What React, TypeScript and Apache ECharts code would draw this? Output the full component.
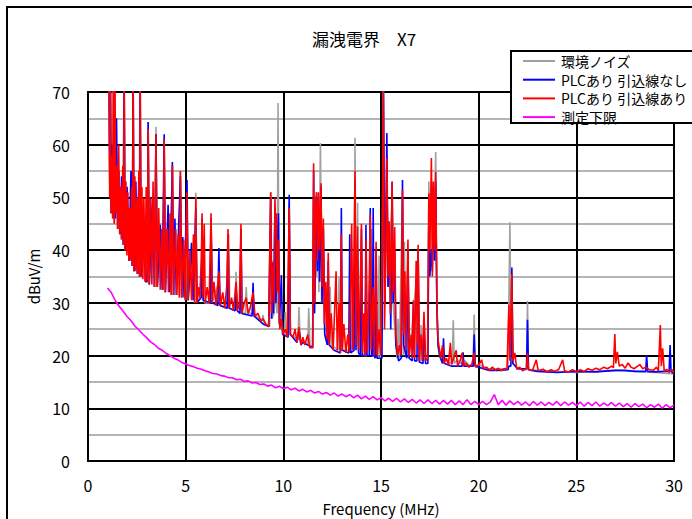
import React, { useEffect, useRef } from "react";
import * as echarts from "echarts";

const TITLE = "漏洩電界　X7";
const X_NAME = "Frequency (MHz)";
const Y_NAME = "dBuV/m";
const SERIES_NAMES = ["環境ノイズ", "PLCあり 引込線なし", "PLCあり 引込線あり", "測定下限"];
const SERIES_COLORS = ["#a0a0a0", "#0000ff", "#ff0000", "#ff00ff"];

// 環境ノイズ (ambient noise) [MHz, dBuV/m]
const ambientNoise: [number, number][] = [
  [1.08, 72], [1.12, 50], [1.15, 73], [1.2, 47], [1.26, 55], [1.3, 73], [1.36, 45], [1.45, 58],
  [1.52, 44], [1.6, 50], [1.7, 42], [1.8, 50], [1.85, 74], [1.9, 40], [2.0, 50], [2.1, 38],
  [2.2, 48], [2.27, 37], [2.31, 74], [2.36, 36], [2.5, 48], [2.6, 35.5], [2.67, 74], [2.72, 35],
  [2.85, 48], [2.95, 34], [3.03, 34], [3.08, 64.3], [3.14, 33.5], [3.3, 48], [3.42, 33], [3.48, 63.4],
  [3.55, 33], [3.7, 44], [3.85, 32.5], [3.9, 61], [3.96, 32], [4.1, 46], [4.26, 31.5], [4.32, 56],
  [4.38, 31.5], [4.5, 44], [4.68, 31], [4.73, 55], [4.8, 31], [4.9, 40], [5.0, 30.5], [5.07, 50],
  [5.13, 30.5], [5.3, 40], [5.46, 30], [5.52, 50.9], [5.58, 30], [5.8, 32], [5.84, 45], [5.88, 30.5],
  [6.0, 30], [6.25, 30], [6.3, 45], [6.36, 30], [6.7, 34], [6.76, 29.5], [7.15, 29], [7.2, 43],
  [7.26, 29], [7.52, 28.5], [7.58, 35.9], [7.64, 28.5], [7.78, 28], [7.83, 44], [7.88, 28], [8.05, 28],
  [8.1, 33], [8.16, 28], [8.45, 28], [8.9, 26.5], [8.96, 27.7], [9.02, 26], [9.3, 25.5], [9.37, 51],
  [9.42, 27], [9.52, 28], [9.57, 49], [9.62, 30], [9.68, 28], [9.73, 67.9], [9.78, 26], [10.05, 24],
  [10.1, 28.3], [10.16, 24], [10.25, 23.5], [10.3, 49], [10.36, 24], [10.75, 23], [10.8, 29.2], [10.86, 23],
  [11.25, 22], [11.3, 29], [11.36, 22], [11.5, 21.5], [11.55, 50], [11.6, 30], [11.65, 50], [11.7, 35],
  [11.75, 50], [11.82, 32], [11.9, 60.3], [11.96, 30], [12.05, 40], [12.12, 24], [12.35, 22], [12.4, 33],
  [12.45, 22], [12.8, 21], [12.85, 34.7], [12.9, 21], [13.3, 21], [13.45, 21], [13.5, 40], [13.56, 21],
  [13.62, 22], [13.67, 61.3], [13.72, 22], [13.76, 22], [13.8, 49], [13.85, 21], [14.0, 40], [14.05, 20],
  [14.3, 20], [14.5, 44], [14.55, 20], [14.85, 19.5], [14.9, 39], [14.96, 19.5], [15.05, 25], [15.12, 72],
  [15.2, 30], [15.3, 55], [15.36, 33], [15.57, 50], [15.62, 30], [15.76, 22], [15.82, 19.5], [15.87, 27],
  [15.93, 19.5], [16.1, 50], [16.15, 20], [16.2, 41.6], [16.26, 20], [16.38, 38], [16.44, 19.5], [16.9, 38],
  [16.96, 19], [17.0, 19], [17.05, 25.8], [17.1, 19], [17.4, 19.5], [17.45, 53], [17.5, 40], [17.62, 50],
  [17.7, 40], [17.8, 58.6], [17.86, 30], [17.92, 22], [18.0, 20], [18.1, 19], [18.3, 19.5], [18.5, 18.5],
  [18.65, 18.8], [18.7, 26.7], [18.75, 18.5], [18.9, 19.2], [19.1, 18.5], [19.3, 19], [19.5, 18.2], [19.72, 18.2],
  [19.77, 27.8], [19.82, 18], [20.0, 18.3], [20.5, 17.5], [21.0, 17.5], [21.5, 17.5], [21.6, 45.3], [21.66, 20],
  [21.7, 35], [21.75, 18.5], [22.0, 17.5], [22.45, 17.3], [22.5, 30.4], [22.55, 17.3], [23, 17.2], [24, 17],
  [25, 16.8], [26, 17], [27, 17.2], [28, 17], [29, 16.8], [30, 16.5],
];

// PLCあり 引込線なし (PLC on, no drop line)
const plcNoDrop: [number, number][] = [
  [1.08, 72], [1.12, 50], [1.15, 73], [1.19, 47], [1.25, 60], [1.3, 46], [1.35, 73], [1.4, 46],
  [1.46, 65], [1.52, 44], [1.58, 55], [1.64, 43], [1.72, 54], [1.8, 41], [1.85, 74], [1.9, 40],
  [2.0, 52], [2.1, 38], [2.2, 55], [2.26, 37], [2.31, 74], [2.36, 36], [2.45, 53], [2.52, 35.5],
  [2.6, 52], [2.64, 35], [2.67, 74], [2.72, 35], [2.85, 45], [2.95, 34], [3.03, 34], [3.08, 64.3],
  [3.14, 33.5], [3.3, 50], [3.4, 33], [3.48, 62], [3.55, 33], [3.7, 44.8], [3.8, 32.5], [3.9, 62],
  [3.96, 32], [4.1, 48.6], [4.18, 32], [4.32, 56.7], [4.38, 31.5], [4.45, 46], [4.52, 31.5], [4.73, 54],
  [4.8, 31], [4.85, 42.5], [4.92, 31], [5.07, 53.3], [5.13, 30.5], [5.3, 41.4], [5.38, 30.5], [5.52, 48],
  [5.58, 30], [5.8, 31], [5.84, 46], [5.9, 30.5], [6.25, 30], [6.3, 46], [6.36, 30], [6.65, 29.5],
  [6.7, 40.4], [6.76, 29.5], [7.12, 29], [7.17, 43], [7.22, 29], [7.53, 28.5], [7.58, 33], [7.64, 28.5],
  [7.78, 28], [7.83, 44], [7.88, 28], [8.4, 27.5], [8.45, 33.8], [8.5, 27.5], [8.96, 26], [9.25, 25.5],
  [9.35, 50], [9.4, 27], [9.45, 37.6], [9.5, 28], [9.57, 48], [9.62, 30], [9.75, 47], [9.8, 26],
  [9.9, 35.3], [9.96, 24], [10.24, 23.5], [10.3, 50.5], [10.36, 24], [10.7, 22.5], [10.8, 25], [10.9, 22],
  [11.0, 22.5], [11.5, 21.5], [11.55, 55], [11.6, 28], [11.7, 50], [11.75, 36], [11.8, 50], [11.86, 34],
  [11.93, 52], [11.98, 30], [12.05, 44], [12.12, 24], [12.25, 22], [12.3, 38], [12.35, 22], [12.6, 21],
  [12.92, 20.5], [12.97, 48], [13.02, 21], [13.35, 20.5], [13.4, 43], [13.45, 20.5], [13.62, 21], [13.67, 53],
  [13.72, 21], [13.8, 40], [13.85, 20.5], [13.95, 20], [14.0, 44], [14.05, 20], [14.18, 20], [14.23, 44.8],
  [14.28, 20], [14.4, 20], [14.45, 48], [14.52, 20], [14.56, 20], [14.6, 48], [14.65, 20], [14.7, 19.5],
  [14.75, 40], [14.8, 19.5], [15.05, 19.5], [15.12, 72], [15.2, 30], [15.3, 62.2], [15.36, 33], [15.45, 40],
  [15.5, 25], [15.57, 53], [15.62, 30], [15.7, 40], [15.76, 22], [15.9, 19], [16.04, 19.5], [16.1, 53.3],
  [16.16, 22], [16.32, 19.5], [16.38, 40], [16.44, 19.5], [16.6, 19], [16.66, 30], [16.72, 19], [16.84, 19],
  [16.9, 40], [16.96, 18.8], [17.15, 18.5], [17.2, 27], [17.28, 18.5], [17.4, 18.5], [17.45, 47], [17.5, 35],
  [17.58, 40], [17.63, 36], [17.68, 52], [17.74, 38], [17.8, 53], [17.86, 29], [17.92, 22], [18.0, 20],
  [18.15, 18.5], [18.2, 23.3], [18.25, 18.5], [18.6, 18], [19.15, 18], [19.2, 20.6], [19.25, 18], [19.72, 18],
  [19.77, 24], [19.82, 18], [20.5, 17.2], [21.0, 17.2], [21.5, 17.3], [21.55, 18], [21.65, 18], [21.7, 36.7],
  [21.75, 18.5], [22.0, 17.5], [22.45, 17.5], [22.5, 26.8], [22.55, 17.3], [23, 17], [24, 16.8], [25, 17],
  [26, 16.9], [27, 17.2], [27.5, 17.2], [28, 17.0], [28.55, 17], [28.6, 20.1], [28.65, 17], [29.0, 16.9],
  [29.5, 17], [29.75, 17], [29.8, 22], [29.85, 17], [30, 16.5],
];

// PLCあり 引込線あり (PLC on, with drop line)
const plcWithDrop: [number, number][] = [
  [1.08, 72], [1.11, 50], [1.14, 73], [1.18, 47], [1.22, 58], [1.26, 46], [1.3, 73], [1.34, 45],
  [1.38, 73], [1.42, 47], [1.47, 56], [1.52, 44], [1.57, 60], [1.62, 43], [1.67, 52], [1.72, 42],
  [1.78, 56], [1.82, 41], [1.85, 74], [1.89, 40], [1.94, 53], [1.99, 39], [2.04, 51], [2.09, 38],
  [2.14, 48], [2.19, 38], [2.24, 52], [2.28, 37], [2.31, 74], [2.35, 36], [2.4, 54], [2.45, 36],
  [2.5, 50], [2.55, 35.5], [2.6, 55], [2.64, 35], [2.67, 74], [2.71, 35], [2.76, 52], [2.81, 34.5],
  [2.86, 50], [2.92, 34], [2.98, 52], [3.03, 34], [3.08, 63], [3.13, 33.5], [3.2, 50], [3.27, 33.5],
  [3.33, 53], [3.4, 33], [3.48, 62], [3.54, 33], [3.62, 48], [3.7, 32.5], [3.78, 44], [3.84, 32.5],
  [3.9, 61], [3.96, 32], [4.05, 44], [4.12, 32], [4.2, 47], [4.26, 31.5], [4.32, 56], [4.38, 31.5],
  [4.48, 44], [4.55, 31.5], [4.62, 43], [4.68, 31], [4.73, 55], [4.8, 31], [4.9, 42], [4.97, 30.5],
  [5.06, 51], [5.12, 30.5], [5.22, 40], [5.3, 30.5], [5.4, 43], [5.46, 30], [5.52, 50], [5.58, 30],
  [5.65, 33], [5.72, 31], [5.8, 38], [5.84, 47], [5.88, 31], [5.95, 45], [6.0, 30], [6.1, 33],
  [6.2, 30], [6.3, 47], [6.36, 30], [6.45, 34], [6.55, 29.5], [6.7, 36], [6.78, 29.5], [6.9, 32],
  [7.0, 29], [7.1, 33], [7.17, 44], [7.22, 29], [7.35, 31], [7.45, 28.5], [7.58, 34], [7.65, 28.5],
  [7.75, 30], [7.83, 45], [7.88, 28], [8.0, 30], [8.1, 31], [8.2, 28], [8.3, 29], [8.45, 32],
  [8.55, 27.5], [8.7, 28], [8.85, 26.5], [8.96, 27], [9.1, 26], [9.25, 25.5], [9.35, 51], [9.4, 28],
  [9.48, 38], [9.53, 30], [9.57, 50], [9.6, 44], [9.64, 47], [9.68, 32], [9.75, 42], [9.82, 25],
  [9.9, 27], [9.98, 24], [10.1, 25], [10.2, 23.5], [10.3, 48], [10.36, 24], [10.5, 23.5], [10.6, 25],
  [10.7, 22.5], [10.8, 25.4], [10.9, 22], [11.0, 23.5], [11.1, 22], [11.25, 24], [11.35, 21.5], [11.5, 21.5],
  [11.55, 56.5], [11.6, 30], [11.65, 49], [11.7, 51], [11.75, 38], [11.8, 51], [11.85, 40], [11.93, 52.7],
  [11.98, 33], [12.05, 46], [12.1, 26], [12.18, 34], [12.24, 23], [12.3, 39.5], [12.35, 22], [12.45, 28],
  [12.55, 21], [12.7, 36], [12.76, 21], [12.85, 30], [12.92, 20.5], [12.97, 43], [13.02, 21], [13.1, 26],
  [13.2, 20.5], [13.3, 24], [13.38, 20.5], [13.5, 45], [13.56, 21], [13.67, 55], [13.72, 22], [13.8, 44.5],
  [13.85, 21], [13.92, 30], [14.0, 45], [14.05, 20.5], [14.12, 28], [14.18, 20], [14.24, 42], [14.3, 20.5],
  [14.38, 30], [14.45, 46.7], [14.5, 21], [14.6, 33], [14.66, 20], [14.75, 41.6], [14.8, 20], [14.9, 25],
  [14.98, 20], [15.05, 36], [15.12, 72], [15.18, 25], [15.25, 40], [15.3, 57.5], [15.36, 35], [15.42, 45.5],
  [15.48, 28], [15.57, 52.9], [15.62, 32], [15.7, 44.4], [15.76, 24], [15.85, 20], [15.95, 22], [16.02, 20],
  [16.1, 51.4], [16.16, 24], [16.22, 36], [16.28, 21], [16.38, 42], [16.44, 20], [16.55, 24], [16.6, 19.5],
  [16.66, 30.5], [16.72, 19.5], [16.8, 38], [16.86, 22], [16.9, 41], [16.96, 19], [17.05, 24], [17.12, 19],
  [17.2, 28.3], [17.28, 19], [17.38, 19.5], [17.45, 50.8], [17.5, 40], [17.58, 57.5], [17.63, 35], [17.68, 53],
  [17.74, 40], [17.8, 54.8], [17.86, 30], [17.92, 23], [18.0, 21], [18.05, 19.5], [18.15, 22], [18.22, 18.5],
  [18.35, 19.5], [18.45, 18.2], [18.55, 22.4], [18.62, 18.3], [18.75, 20], [18.85, 21], [18.92, 18], [19.05, 19],
  [19.15, 20.5], [19.22, 18], [19.35, 18.6], [19.5, 17.8], [19.65, 18.3], [19.77, 20.5], [19.85, 17.8], [20.0, 18.2],
  [20.15, 19.2], [20.25, 17.5], [20.4, 17.8], [20.55, 17.2], [20.7, 17.8], [20.85, 17.2], [21.0, 17.6], [21.15, 17.1],
  [21.3, 17.5], [21.45, 17.6], [21.55, 29.7], [21.6, 19], [21.7, 35.5], [21.75, 19], [21.85, 20.5], [21.95, 17.4],
  [22.1, 17.8], [22.25, 17.1], [22.45, 17.6], [22.5, 20.5], [22.55, 17.4], [22.75, 17.1], [22.95, 19.2], [23.05, 17.1],
  [23.3, 17.4], [23.5, 16.9], [23.7, 17.3], [23.9, 17.0], [24.1, 17.4], [24.3, 19.2], [24.4, 17.1], [24.6, 16.9],
  [24.8, 17.3], [25.0, 16.9], [25.2, 17.3], [25.4, 17.0], [25.6, 17.5], [25.8, 17.2], [26.0, 17.6], [26.2, 17.3],
  [26.4, 17.8], [26.6, 17.5], [26.8, 18], [26.9, 17.7], [26.97, 24.1], [27.02, 18.5], [27.1, 20.7], [27.2, 18],
  [27.35, 18.3], [27.5, 17.6], [27.65, 18.6], [27.8, 17.8], [27.95, 17.5], [28.1, 17.9], [28.25, 18.3], [28.4, 17.5],
  [28.55, 17.8], [28.75, 17.3], [28.95, 17.2], [29.1, 17.8], [29.2, 17.1], [29.3, 25.8], [29.35, 18], [29.42, 21.4],
  [29.5, 17], [29.62, 17.4], [29.75, 16.8], [29.9, 17.3], [30.0, 16.8],
];

// 測定下限 (measurement lower limit), swept from LIMIT_START every LIMIT_STEP MHz
const LIMIT_START = 1.0;
const LIMIT_STEP = 0.2;
const lowerLimit: number[] = [
  32.8, 31.9, 30.4, 29.3, 28.4, 27.4, 26.6, 25.6, 24.9, 24.1,
  23.4, 22.6, 22.1, 21.4, 21.0, 20.4, 20.0, 19.5, 19.2, 18.7,
  18.4, 18.1, 17.9, 17.6, 17.4, 17.1, 16.9, 16.6, 16.5, 16.2,
  16.1, 15.8, 15.8, 15.4, 15.5, 15.1, 15.2, 14.8, 14.9, 14.5,
  14.6, 14.2, 14.4, 13.9, 14.2, 13.7, 14.0, 13.5, 13.8, 13.3,
  13.6, 13.1, 13.4, 12.9, 13.2, 12.7, 13.0, 12.5, 12.9, 12.3,
  12.7, 12.2, 12.6, 12.0, 12.5, 11.8, 12.3, 11.7, 12.2, 11.6,
  12.0, 11.4, 11.9, 11.3, 11.9, 11.2, 11.8, 11.1, 11.7, 11.0,
  11.6, 10.9, 11.6, 10.9, 11.5, 10.8, 11.5, 10.8, 11.5, 10.7,
  11.4, 10.7, 11.6, 10.7, 11.3, 10.7, 11.3, 10.7, 11.2, 12.6,
  10.7, 11.5, 10.6, 11.4, 10.7, 11.3, 10.6, 11.2, 10.5, 11.3,
  10.6, 11.2, 10.5, 11.1, 10.6, 11.3, 10.5, 11.2, 10.6, 11.1,
  10.5, 11.2, 10.4, 11.1, 10.5, 11.2, 10.4, 11.0, 10.5, 11.1,
  10.4, 11.0, 10.3, 10.9, 10.2, 10.9, 10.3, 10.8, 10.1, 10.7,
  10.2, 10.8, 10.0, 10.7, 10.1, 10.6,
];

const X_MIN = 0, X_MAX = 30, X_INTERVAL = 5;
const Y_MIN = 0, Y_MAX = 70, Y_INTERVAL = 10;

const FONT = "'Noto Sans CJK JP', 'Noto Sans', sans-serif";

export default function App() {
  const ref = useRef<HTMLDivElement>(null);
  useEffect(() => {
    if (!ref.current) return;
    const chart = echarts.init(ref.current, undefined, { renderer: "svg" });
    const limitData = lowerLimit.map((v, i) => [LIMIT_START + i * LIMIT_STEP, v]);
    const seriesData = [ambientNoise, plcNoDrop, plcWithDrop, limitData];

    const legendTop = 51;
    const legendRowGap = 18.7;
    const legendItems: any[] = [];
    SERIES_NAMES.forEach((name, i) => {
      const y = legendTop + 10 + i * legendRowGap;
      legendItems.push({
        type: "line",
        z: 101,
        shape: { x1: 523, y1: y, x2: 555, y2: y },
        style: { stroke: SERIES_COLORS[i], lineWidth: 2 },
      });
      legendItems.push({
        type: "text",
        z: 101,
        x: 561,
        y: y,
        style: {
          text: name,
          fill: "#000",
          font: `14px ${FONT}`,
          textVerticalAlign: "middle",
          verticalAlign: "middle",
        },
      });
    });

    chart.setOption({
      animation: false,
      backgroundColor: "#fff",
      textStyle: { fontFamily: FONT },
      grid: {
        left: 88,
        top: 92,
        width: 586,
        height: 369,
        containLabel: false,
        outerBoundsMode: "none",
        show: true,
        borderColor: "#000",
        borderWidth: 2,
        backgroundColor: "transparent",
      },
      xAxis: {
        type: "value",
        min: X_MIN,
        max: X_MAX,
        interval: X_INTERVAL,
        name: X_NAME,
        nameLocation: "middle",
        nameGap: 40,
        nameTextStyle: { color: "#000", fontSize: 15, fontFamily: FONT },
        axisLine: { show: true, lineStyle: { color: "#000", width: 2 } },
        axisTick: { show: false },
        axisLabel: { color: "#000", fontSize: 16, margin: 16, fontFamily: FONT },
        splitLine: { show: true, lineStyle: { color: "#000", width: 2 } },
      },
      yAxis: {
        type: "value",
        min: Y_MIN,
        max: Y_MAX,
        interval: Y_INTERVAL,
        name: Y_NAME,
        nameLocation: "middle",
        nameGap: 46,
        nameRotate: 90,
        nameTextStyle: { color: "#000", fontSize: 15, fontFamily: FONT },
        axisLine: { show: true, lineStyle: { color: "#000", width: 2 } },
        axisTick: { show: false },
        axisLabel: { color: "#000", fontSize: 16, margin: 18, fontFamily: FONT },
        splitLine: { show: true, lineStyle: { color: "#000", width: 2 } },
        minorTick: { show: false, splitNumber: 2 },
        minorSplitLine: { show: true, lineStyle: { color: "#b4b4b4", width: 2 } },
      },
      series: seriesData.map((data, i) => ({
        name: SERIES_NAMES[i],
        type: "line",
        data,
        showSymbol: false,
        symbol: "none",
        clip: true,
        z: 2 + i,
        lineStyle: { color: SERIES_COLORS[i], width: 1.6 },
        itemStyle: { color: SERIES_COLORS[i] },
      })),
      graphic: [
        {
          type: "rect",
          z: 50,
          shape: { x: 7, y: 7, width: 720, height: 540 },
          style: { fill: "none", stroke: "#000", lineWidth: 2 },
          silent: true,
        },
        {
          type: "text",
          z: 50,
          x: 364,
          y: 38,
          style: {
            text: TITLE,
            fill: "#000",
            font: `17px ${FONT}`,
            textAlign: "center",
            textVerticalAlign: "middle",
            verticalAlign: "middle",
          },
        },
        {
          type: "rect",
          z: 100,
          shape: { x: 511, y: legendTop, width: 220, height: 72 },
          style: { fill: "#fff", stroke: "#000", lineWidth: 2 },
        },
        ...legendItems,
      ],
    });
    return () => chart.dispose();
  }, []);
  return (
    <div
      ref={ref}
      style={{ position: "fixed", left: 0, top: 0, width: 692, height: 519 }}
    />
  );
}
